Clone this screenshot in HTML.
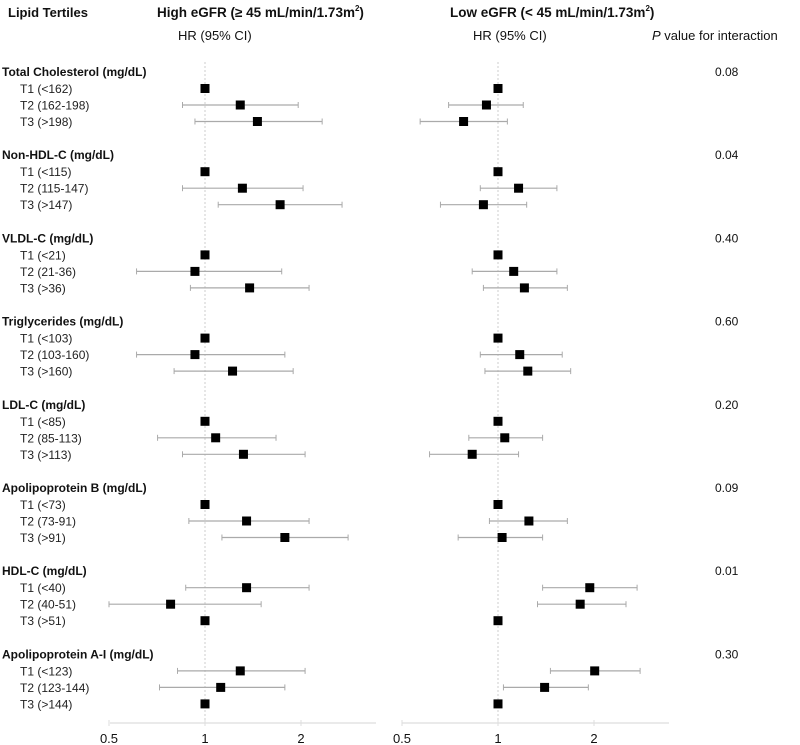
<!DOCTYPE html>
<html><head><meta charset="utf-8">
<style>
html,body{margin:0;padding:0;background:#fff;}
svg{display:block;font-family:"Liberation Sans",Arial,sans-serif;}
</style></head>
<body>
<svg id="chart" width="800" height="745" viewBox="0 0 800 745">
  <text x="8" y="17" font-size="13" font-weight="bold" fill="#111">Lipid Tertiles</text>
  <text x="157" y="17" font-size="13.5" font-weight="bold" fill="#111">High eGFR (≥ 45 mL/min/1.73m<tspan font-size="8" dy="-6">2</tspan><tspan dy="6">)</tspan></text>
  <text x="178" y="40" font-size="13" fill="#111">HR (95% CI)</text>
  <text x="450" y="17" font-size="13.5" font-weight="bold" fill="#111">Low eGFR (&lt; 45 mL/min/1.73m<tspan font-size="8" dy="-6">2</tspan><tspan dy="6">)</tspan></text>
  <text x="473" y="40" font-size="13" fill="#111">HR (95% CI)</text>
  <text x="652" y="40" font-size="13" fill="#111"><tspan font-style="italic">P</tspan> value for interaction</text>
  <g id="refs"></g>
  <g id="rows"></g>
  <g id="marks"></g>
  <g id="axes"></g>
</svg>
<script>
const groups = ["Total Cholesterol (mg/dL)","Non-HDL-C (mg/dL)","VLDL-C (mg/dL)","Triglycerides (mg/dL)","LDL-C (mg/dL)","Apolipoprotein B (mg/dL)","HDL-C (mg/dL)","Apolipoprotein A-I (mg/dL)"];
const tertileLabels = [
 ["T1 (<162)","T2 (162-198)","T3 (>198)"],
 ["T1 (<115)","T2 (115-147)","T3 (>147)"],
 ["T1 (<21)","T2 (21-36)","T3 (>36)"],
 ["T1 (<103)","T2 (103-160)","T3 (>160)"],
 ["T1 (<85)","T2 (85-113)","T3 (>113)"],
 ["T1 (<73)","T2 (73-91)","T3 (>91)"],
 ["T1 (<40)","T2 (40-51)","T3 (>51)"],
 ["T1 (<123)","T2 (123-144)","T3 (>144)"]
];
const pValues = ["0.08","0.04","0.40","0.60","0.20","0.09","0.01","0.30"];
const highHR = [[1,1.29,1.46],[1,1.31,1.72],[1,0.93,1.38],[1,0.93,1.22],[1,1.08,1.32],[1,1.35,1.78],[1.35,0.78,1],[1.29,1.12,1]];
const highLo = [[null,0.85,0.93],[null,0.85,1.10],[null,0.61,0.90],[null,0.61,0.80],[null,0.71,0.85],[null,0.89,1.13],[0.87,0.50,null],[0.82,0.72,null]];
const highHi = [[null,1.96,2.33],[null,2.03,2.69],[null,1.74,2.12],[null,1.78,1.89],[null,1.67,2.06],[null,2.12,2.81],[2.12,1.50,null],[2.06,1.78,null]];
const lowHR = [[1,0.92,0.78],[1,1.16,0.90],[1,1.12,1.21],[1,1.17,1.24],[1,1.05,0.83],[1,1.25,1.03],[1.94,1.81,1],[2.01,1.40,1]];
const lowLo = [[null,0.70,0.57],[null,0.88,0.66],[null,0.83,0.90],[null,0.88,0.91],[null,0.81,0.61],[null,0.94,0.75],[1.38,1.33,null],[1.46,1.04,null]];
const lowHi = [[null,1.20,1.07],[null,1.53,1.23],[null,1.53,1.65],[null,1.59,1.69],[null,1.38,1.16],[null,1.65,1.38],[2.73,2.52,null],[2.79,1.92,null]];
const ticks = [0.5,1,2];
const tickLabels = ["0.5","1","2"];

const NS = "http://www.w3.org/2000/svg";
function mk(tag, attrs, parent){ const e=document.createElementNS(NS,tag); for(const k in attrs) e.setAttribute(k,attrs[k]); parent.appendChild(e); return e; }
const PER = 96;
function xLeft(v){ return 205 + Math.log2(v)*PER; }
function xRight(v){ return 498 + Math.log2(v)*PER; }
function yGroup(g){ return 72 + g*83.2; }
function yRow(g,t){ return yGroup(g) + 16.5*(t+1); }

const refs = document.getElementById('refs');
const rows = document.getElementById('rows');
const marks = document.getElementById('marks');
const axes = document.getElementById('axes');

[[xLeft,'ref-line-high'],[xRight,'ref-line-low']].forEach(([sx,name])=>{
  const l = mk('line',{x1:sx(1),x2:sx(1),y1:62,y2:722,stroke:'#ccc','stroke-width':1,'stroke-dasharray':'2,2'},refs);
  
  
});

groups.forEach((g,gi)=>{
  const t = mk('text',{x:2,y:yGroup(gi)+4,'font-size':12,'font-weight':'bold',fill:'#111'},rows);
  t.textContent = g;
  
  
  const p = mk('text',{x:715,y:yGroup(gi)+4,'font-size':12,fill:'#111'},rows);
  p.textContent = pValues[gi];
  
  
  for(let ti=0;ti<3;ti++){
    const y = yRow(gi,ti);
    const lt = mk('text',{x:20,y:y+4.5,'font-size':12,fill:'#222'},rows);
    lt.textContent = tertileLabels[gi][ti];
    
    
    [[xLeft,highHR,highLo,highHi,'high'],[xRight,lowHR,lowLo,lowHi,'low']].forEach(([sx,HR,LO,HI,side])=>{
      const lo = LO[gi][ti], hi = HI[gi][ti];
      if(lo!==null && hi!==null){
        const ci = mk('line',{x1:sx(lo),x2:sx(hi),y1:y,y2:y,stroke:'#aaa','stroke-width':1.2},marks);
        
        
        [lo,hi].forEach(v=>{
          const cap = mk('line',{x1:sx(v),x2:sx(v),y1:y-3,y2:y+3,stroke:'#aaa','stroke-width':1},marks);
          
          
        });
      }
      const m = mk('rect',{x:sx(HR[gi][ti])-4.5,y:y-4.5,width:9,height:9,fill:'#000'},marks);
      
      
    });
  }
});

[[xLeft,110,376,'high'],[xRight,402,669,'low']].forEach(([sx,a,b,side])=>{
  const ax = mk('line',{x1:a,x2:b,y1:723,y2:723,stroke:'#ddd','stroke-width':1.3},axes);
  
  
  ticks.forEach((tv,i)=>{
    const tk = mk('line',{x1:sx(tv),x2:sx(tv),y1:720,y2:726,stroke:'#ddd','stroke-width':1},axes);
    
    
    const tl = mk('text',{x:sx(tv),y:743,'font-size':13,fill:'#111','text-anchor':'middle'},axes);
    tl.textContent = tickLabels[i];
    
    
  });
});
</script>
</body></html>
